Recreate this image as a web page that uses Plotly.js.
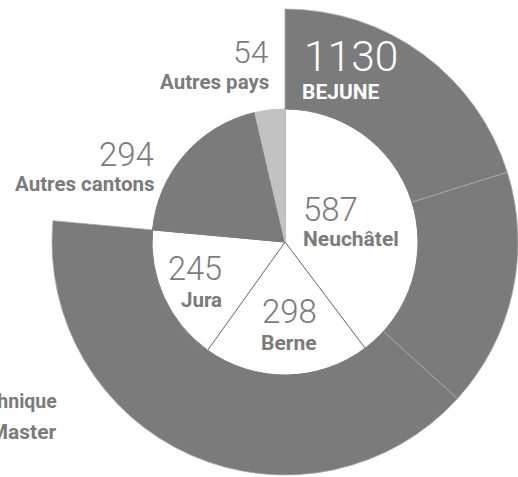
<!DOCTYPE html>
<html>
<head>
<meta charset="utf-8">
<script src="https://cdn.plot.ly/plotly-3.0.1.min.js"></script>
<style>html,body{margin:0;padding:0;overflow:hidden;background:#fff;}#chart{width:518px;height:477px;}</style>
</head>
<body>
<div id="chart"></div>
<script>
// Inner pie: origin of students
var innerLabels = ['Neuchâtel', 'Berne', 'Jura', 'Autres cantons', 'Autres pays'];
var innerValues = [587, 298, 245, 294, 54];
// Outer ring: BEJUNE block (segments as drawn) + empty remainder
var outerLabels = ['Berne ', 'Jura ', 'Neuchâtel ', 'Hors BEJUNE'];
var outerValues = [298, 245, 587, 348];
// Headline figures
var bejuneTotal = 1130;
var sideTexts = ['technique', 'Bachelor et Master'];

var DARK = '#7b7b7b', LIGHT = '#c2c2c2', TXT = '#7b7b7b';
var W = 518, H = 477;
function px(x){return x / W;}
function py(y){return 1 - y / H;}

var outer = {
  type: 'pie', labels: outerLabels, values: outerValues, sort: false,
  direction: 'clockwise', rotation: 0, hole: 0.565,
  domain: {x: [px(52), 1], y: [py(475), py(9)]},
  marker: {colors: [DARK, DARK, DARK, 'rgba(0,0,0,0)'],
           line: {color: ['#a9a9a9', '#a9a9a9', '#a9a9a9', 'rgba(0,0,0,0)'], width: [0.8, 0.8, 0.8, 0]}},
  textinfo: 'none', hoverinfo: 'none', showlegend: false
};
var inner = {
  type: 'pie', labels: innerLabels, values: innerValues, sort: false,
  direction: 'clockwise', rotation: 0,
  domain: {x: [px(152), px(418)], y: [py(375), py(109)]},
  marker: {colors: ['#ffffff', '#ffffff', '#ffffff', DARK, LIGHT],
           line: {color: [DARK, DARK, DARK, DARK, LIGHT], width: 1}},
  textinfo: 'none', hoverinfo: 'none', showlegend: false
};

var numFont = function(size, color){return {family: 'Roboto, "DejaVu Sans", sans-serif', size: size, color: color, weight: 300};};
var lblFont = function(size, color){return {family: 'Roboto, "DejaVu Sans", sans-serif', size: size, color: color, weight: 700};};
function ann(text, x, y, xa, font){
  return {text: text, x: px(x), y: py(y), xref: 'paper', yref: 'paper', xanchor: xa, yanchor: 'middle', showarrow: false, font: font};
}
var annotations = [
  ann(String(innerValues[4]), 271, 52, 'right', numFont(32, TXT)),
  ann(innerLabels[4], 271, 82, 'right', lblFont(20.5, TXT)),
  ann(String(bejuneTotal), 302, 57, 'left', numFont(42.5, '#ffffff')),
  ann('BEJUNE', 300, 92, 'left', lblFont(21, '#ffffff')),
  ann(String(innerValues[3]), 156, 154, 'right', numFont(33, TXT)),
  ann(innerLabels[3], 157, 184, 'right', lblFont(20.5, TXT)),
  ann(String(innerValues[0]), 301, 209, 'left', numFont(33, TXT)),
  ann(innerLabels[0], 301, 239, 'left', lblFont(21, TXT)),
  ann(String(innerValues[2]), 224, 269, 'right', numFont(32.5, TXT)),
  ann(innerLabels[2], 224, 300, 'right', lblFont(20.5, TXT)),
  ann(String(innerValues[1]), 289, 311, 'center', numFont(33, TXT)),
  ann(innerLabels[1], 289, 343, 'center', lblFont(21, TXT)),
  ann(sideTexts[0], 59, 401, 'right', lblFont(19.5, TXT)),
  ann(sideTexts[1], 59, 432, 'right', lblFont(21, TXT))
];

var layout = {
  width: W, height: H, margin: {l: 0, r: 0, t: 0, b: 0},
  paper_bgcolor: '#ffffff', plot_bgcolor: '#ffffff', showlegend: false,
  annotations: annotations
};
Plotly.newPlot('chart', [outer, inner], layout, {displayModeBar: false, staticPlot: true});
</script>
</body>
</html>
